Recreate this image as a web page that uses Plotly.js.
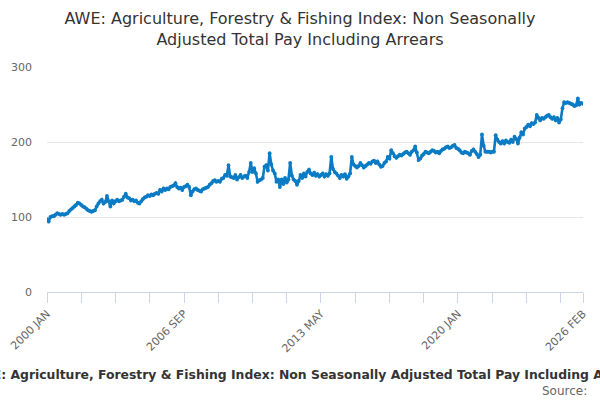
<!DOCTYPE html>
<html>
<head>
<meta charset="utf-8">
<script src="https://cdn.plot.ly/plotly-3.0.1.min.js"></script>
<style>html,body{margin:0;padding:0;background:#fff;}#chart{width:600px;height:400px;}</style>
</head>
<body>
<div id="chart"></div>
<script>
var monthNames = ["JAN","FEB","MAR","APR","MAY","JUN","JUL","AUG","SEP","OCT","NOV","DEC"];
var startYear = 2000;
var seriesName = "AWE: Agriculture, Forestry & Fishing Index: Non Seasonally Adjusted Total Pay Including Arrears";
var values = [
 97, 94,100,101,101,103,105,104,103,104,103,104,
105,108,110,112,114,116,119,118,116,114,113,111,
109,108,107,108,109,114,118,121,123,118,120,128,
121,114,122,118,121,123,121,122,123,127,131,126,
125,122,123,121,122,119,118,121,124,126,127,129,
128,130,129,131,132,131,136,134,138,136,138,137,
140,141,142,145,140,138,139,136,140,141,143,140,
129,134,137,138,136,135,134,137,138,139,140,143,
145,148,149,147,148,147,151,152,156,155,169,154,
153,152,156,150,153,156,152,154,155,152,160,172,
160,165,158,147,149,150,152,167,169,162,185,170,
162,158,147,150,140,150,144,152,146,150,172,155,
150,148,143,148,156,152,158,154,160,163,158,156,
159,155,157,154,156,158,154,157,155,158,180,164,
160,158,155,152,156,154,157,151,154,158,180,170,
168,166,168,172,169,166,168,170,172,171,174,175,
172,174,170,167,168,172,174,180,178,189,185,181,
179,181,183,182,184,186,187,185,183,187,189,194,
186,176,178,182,184,187,186,185,187,189,188,186,
187,185,188,190,191,193,194,192,193,195,196,192,
191,189,186,185,187,186,185,183,188,190,187,184,
180,183,210,195,187,187,187,186,187,187,209,203,
200,198,201,198,202,200,199,203,200,207,204,198,
206,213,210,218,220,223,221,225,224,226,236,232,
229,232,231,233,235,236,233,231,233,229,232,226,
230,245,253,252,253,252,251,250,248,249,258,250,
252,251
];
var categories = values.map(function(v, i){
  return (startYear + Math.floor(i/12)) + " " + monthNames[i%12];
});
var tickVals = [], tickText = [];
for (var i = 0; i < categories.length; i++) {
  if (i % 20 === 0 || i === categories.length - 1) {
    tickVals.push(categories[i]);
    tickText.push((i % 80 === 0 || i === categories.length - 1) ? categories[i] : "");
  }
}
var yTicks = [0, 100, 200, 300];

var trace = {
  x: categories, y: values, type: "scatter", mode: "lines+markers",
  name: seriesName,
  line: {color: "#0a7bc4", width: 2.6},
  marker: {color: "#0a7bc4", size: 3.8},
  hoverinfo: "x+y", showlegend: false
};
var layout = {
  width: 600, height: 400,
  margin: {l: 47, r: 17, t: 67, b: 108},
  paper_bgcolor: "#fff", plot_bgcolor: "#fff",
  font: {family: "DejaVu Sans", color: "#666", size: 11},
  title: {
    text: "AWE: Agriculture, Forestry & Fishing Index: Non Seasonally<br>Adjusted Total Pay Including Arrears",
    font: {family: "DejaVu Sans", size: 16, color: "#333"},
    x: 0.5, xref: "container", xanchor: "center",
    y: 0.94, yref: "container", yanchor: "top"
  },
  xaxis: {
    type: "category", range: [0, categories.length - 1],
    tickmode: "array", tickvals: tickVals, ticktext: tickText,
    tickangle: -45, ticks: "outside", ticklen: 10, tickcolor: "#ccd6eb", tickwidth: 1,
    showline: true, linecolor: "#ccd6eb", linewidth: 1,
    showgrid: false, zeroline: false,
    tickfont: {family: "DejaVu Sans", size: 11, color: "#666"}
  },
  yaxis: {
    range: [0, 300], tickmode: "array", tickvals: yTicks, ticktext: yTicks.map(String),
    showgrid: true, gridcolor: "#e6e6e6", gridwidth: 1,
    zeroline: false, showline: false, ticks: "",
    ticklabelstandoff: 14,
    tickfont: {family: "DejaVu Sans", size: 11, color: "#666"}
  },
  annotations: [
    {text: "<b>" + seriesName + "</b>", xref: "paper", yref: "paper",
     x: (307 - 47) / 536, y: -(374 - 292) / 225, xanchor: "center", yanchor: "middle",
     showarrow: false, font: {family: "DejaVu Sans", size: 12.4, color: "#333"}},
    {text: "Source:", xref: "paper", yref: "paper",
     x: (589 - 47) / 536, y: -(391 - 292) / 225, xanchor: "right", yanchor: "middle",
     showarrow: false, font: {family: "DejaVu Sans", size: 12, color: "#666"}}
  ]
};
Plotly.newPlot("chart", [trace], layout, {displayModeBar: false, staticPlot: true});
</script>
</body>
</html>
